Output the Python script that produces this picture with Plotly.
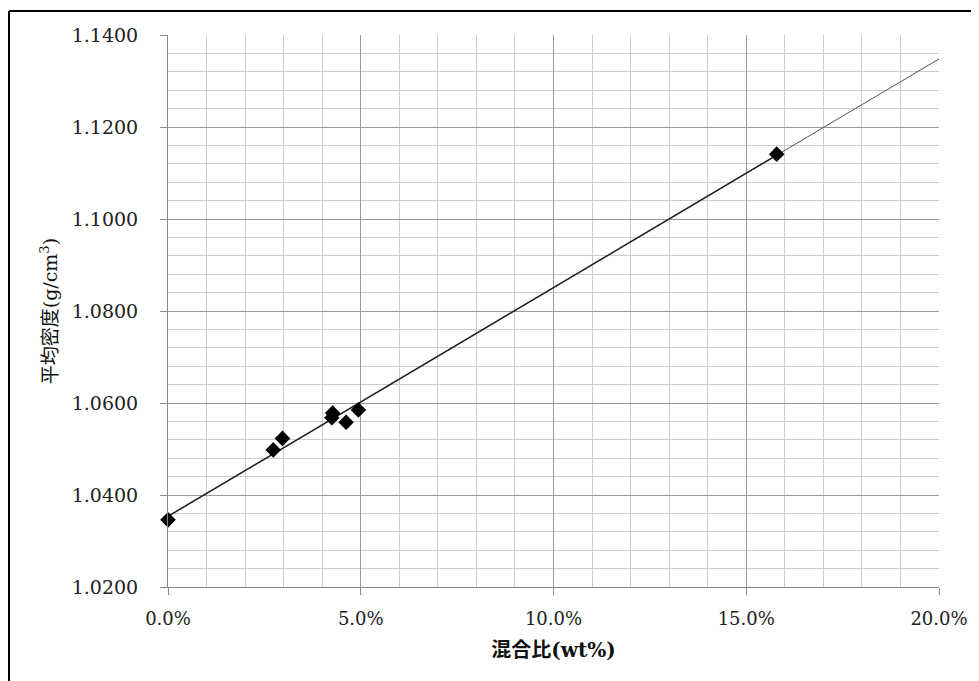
import numpy as np
import plotly.graph_objects as go

# Data
mix_ratio = [0.0, 0.0273, 0.0297, 0.0427, 0.0425, 0.0462, 0.0494, 0.1579]
density = [1.0346, 1.0498, 1.0523, 1.0578, 1.0568, 1.0558, 1.0585, 1.1141]

x_title = "混合比(wt%)"
y_title = "平均密度(g/cm<sup>3</sup>)"

# Linear trendline (least squares, as in the spreadsheet trendline)
slope, intercept = np.polyfit(mix_ratio, density, 1)
trend_x = [0.0, 0.20]
trend_y = [intercept + slope * v for v in trend_x]
data_x = [0.0, max(mix_ratio)]
data_y = [intercept + slope * v for v in data_x]

font_family = "DejaVu Serif, Noto Sans CJK JP"

fig = go.Figure()
fig.add_trace(go.Scatter(x=trend_x, y=trend_y, mode="lines",
                         line=dict(color="#555555", width=1), hoverinfo="skip",
                         showlegend=False, cliponaxis=False))
fig.add_trace(go.Scatter(x=data_x, y=data_y, mode="lines",
                         line=dict(color="#222222", width=1.5), hoverinfo="skip",
                         showlegend=False))
fig.add_trace(go.Scatter(x=mix_ratio, y=density, mode="markers",
                         marker=dict(symbol="diamond", size=12, color="black"),
                         showlegend=False, cliponaxis=False))

# page has an 8px body margin, so the figure is sized to fit the window
fig.update_layout(
    width=971, height=673,
    margin=dict(l=160, r=40, t=27, b=94),
    paper_bgcolor="white", plot_bgcolor="white",
    font=dict(family=font_family, size=18, color="#222222"),
    xaxis=dict(
        range=[0, 0.20], dtick=0.05, tick0=0, tickformat=".1%",
        showgrid=True, gridcolor="#9a9a9a", gridwidth=1,
        minor=dict(dtick=0.01, showgrid=True, gridcolor="#cccccc", gridwidth=1),
        ticks="outside", ticklen=7, tickcolor="#888888",
        showline=True, linecolor="#888888", linewidth=1,
        zeroline=False, ticklabelstandoff=8,
        tickfont=dict(size=18),
        title=dict(text="<b>" + x_title + "</b>", font=dict(size=20, color="#111111"), standoff=15),
    ),
    yaxis=dict(
        range=[1.02, 1.14], dtick=0.02, tick0=1.02, tickformat=".4f",
        showgrid=True, gridcolor="#9a9a9a", gridwidth=1,
        minor=dict(dtick=0.004, showgrid=True, gridcolor="#cccccc", gridwidth=1),
        ticks="outside", ticklen=7, tickcolor="#888888",
        showline=True, linecolor="#888888", linewidth=1,
        zeroline=False, ticklabelstandoff=18,
        tickfont=dict(size=19),
        title=dict(text=y_title, font=dict(size=19, color="#111111"), standoff=9),
    ),
    shapes=[
        dict(type="line", xref="paper", yref="paper",
             x0=(9 - 168) / 771, x1=(979 - 168) / 771,
             y0=(587 - 11) / 552, y1=(587 - 11) / 552,
             line=dict(color="black", width=2)),
        dict(type="line", xref="paper", yref="paper",
             x0=(9 - 168) / 771, x1=(9 - 168) / 771,
             y0=(587 - 11) / 552, y1=(587 - 681) / 552,
             line=dict(color="black", width=2)),
    ],
)

fig.write_html("out.html")
